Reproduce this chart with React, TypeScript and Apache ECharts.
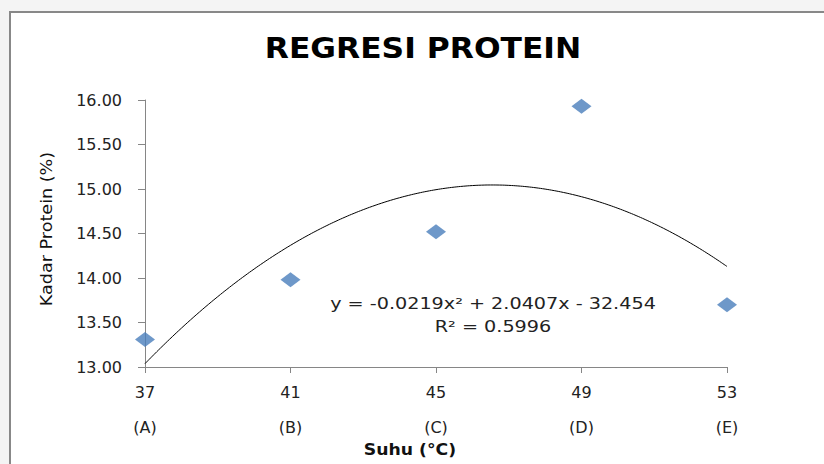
import React, { useEffect, useRef } from "react";
import * as echarts from "echarts";

const suhu = [37, 41, 45, 49, 53];
const perlakuan = ["A", "B", "C", "D", "E"];
const kadarProtein = [13.31, 13.98, 14.52, 15.93, 13.7];
const yTicks = [13, 13.5, 14, 14.5, 15, 15.5, 16];
// coefficients as printed on the trendline label: a*x^2 + b*x + c
const labelCoef = [-0.0219, 2.0407, -32.454];
const rSquared = 0.5996;

// least-squares quadratic fit of the data (the trendline)
function quadFit(xs: number[], ys: number[]) {
  const m = xs.reduce((s, v) => s + v, 0) / xs.length;
  const t = xs.map((x) => x - m);
  const S = (k: number) => t.reduce((s, v) => s + Math.pow(v, k), 0);
  const Sy = (k: number) => t.reduce((s, v, i) => s + Math.pow(v, k) * ys[i], 0);
  const A = [
    [S(4), S(3), S(2)],
    [S(3), S(2), S(1)],
    [S(2), S(1), S(0)],
  ];
  const B = [Sy(2), Sy(1), Sy(0)];
  const det = (M: number[][]) =>
    M[0][0] * (M[1][1] * M[2][2] - M[1][2] * M[2][1]) -
    M[0][1] * (M[1][0] * M[2][2] - M[1][2] * M[2][0]) +
    M[0][2] * (M[1][0] * M[2][1] - M[1][1] * M[2][0]);
  const D = det(A);
  const sol = [0, 1, 2].map((col) => {
    const M = A.map((row, r) => row.map((v, c) => (c === col ? B[r] : v)));
    return det(M) / D;
  });
  return (x: number) => sol[0] * (x - m) * (x - m) + sol[1] * (x - m) + sol[2];
}

export default function App() {
  const ref = useRef<HTMLDivElement>(null);
  useEffect(() => {
    if (!ref.current) return;
    const chart = echarts.init(ref.current, null, { renderer: "svg" });
    const f = quadFit(suhu, kadarProtein);
    const trend: number[][] = [];
    for (let x = suhu[0]; x <= suhu[suhu.length - 1] + 1e-9; x += 0.25) {
      trend.push([x, f(x)]);
    }
    const [a, b, c] = labelCoef;
    const font = "DejaVu Sans";
    chart.setOption({
      animation: false,
      backgroundColor: "#f4f4f4",
      graphic: [
        {
          type: "rect",
          shape: { x: 10, y: 12, width: 830, height: 470 },
          style: { fill: "#ffffff", stroke: "#888888", lineWidth: 2 },
          z: -10,
        },
        {
          type: "text",
          x: 423,
          y: 48,
          scaleX: 1.12,
          style: {
            text: "REGRESI PROTEIN",
            font: `bold 28px ${font}`,
            fill: "#000",
            textAlign: "center",
            textVerticalAlign: "middle",
          },
        },
        {
          type: "text",
          x: 493,
          y: 304,
          scaleX: 1.2,
          style: {
            text: `y = ${a}x² + ${b}x - ${Math.abs(c)}`,
            font: `16px ${font}`,
            fill: "#222",
            textAlign: "center",
            textVerticalAlign: "middle",
          },
        },
        {
          type: "text",
          x: 493,
          y: 327,
          scaleX: 1.2,
          style: {
            text: `R² = ${rSquared}`,
            font: `16px ${font}`,
            fill: "#222",
            textAlign: "center",
            textVerticalAlign: "middle",
          },
        },
        {
          type: "text",
          x: 410,
          y: 450,
          scaleX: 1.15,
          style: {
            text: "Suhu (°C)",
            font: `bold 15px ${font}`,
            fill: "#111",
            textAlign: "center",
            textVerticalAlign: "middle",
          },
        },
        {
          type: "text",
          x: 46,
          y: 229,
          rotation: Math.PI / 2,
          scaleX: 1.1,
          style: {
            text: "Kadar Protein (%)",
            font: `16px ${font}`,
            fill: "#111",
            textAlign: "center",
            textVerticalAlign: "middle",
          },
        },
      ],
      grid: { left: 145, right: 97, top: 100, bottom: 97 },
      xAxis: {
        type: "value",
        min: suhu[0],
        max: suhu[suhu.length - 1],
        splitLine: { show: false },
        axisLine: { lineStyle: { color: "#868686", width: 1 } },
        axisTick: { show: true, length: 6, lineStyle: { color: "#868686" }, customValues: suhu },
        axisLabel: {
          customValues: suhu,
          margin: 8,
          lineHeight: 35,
          fontFamily: font,
          fontSize: 16,
          color: "#222",
          formatter: (v: number) => {
            const i = suhu.indexOf(v);
            return `${v}\n(${perlakuan[i]})`;
          },
        },
      },
      yAxis: {
        type: "value",
        min: yTicks[0],
        max: yTicks[yTicks.length - 1],
        interval: 0.5,
        splitLine: { show: false },
        axisLine: { show: true, lineStyle: { color: "#868686", width: 1 } },
        axisTick: { show: true, length: 7, lineStyle: { color: "#868686" } },
        axisLabel: {
          margin: 23,
          fontFamily: font,
          fontSize: 16,
          color: "#222",
          formatter: (v: number) => v.toFixed(2),
        },
      },
      series: [
        {
          type: "line",
          data: trend,
          showSymbol: false,
          smooth: true,
          lineStyle: { color: "#000", width: 1 },
          z: 1,
        },
        {
          type: "scatter",
          data: suhu.map((x, i) => [x, kadarProtein[i]]),
          symbol: "diamond",
          symbolSize: [20, 15],
          itemStyle: { color: "#4a7ebb" },
          z: 3,
        },
      ],
    });
    return () => chart.dispose();
  }, []);
  return (
    <div
      ref={ref}
      style={{ position: "fixed", left: 0, top: 0, width: 824, height: 464 }}
    />
  );
}
